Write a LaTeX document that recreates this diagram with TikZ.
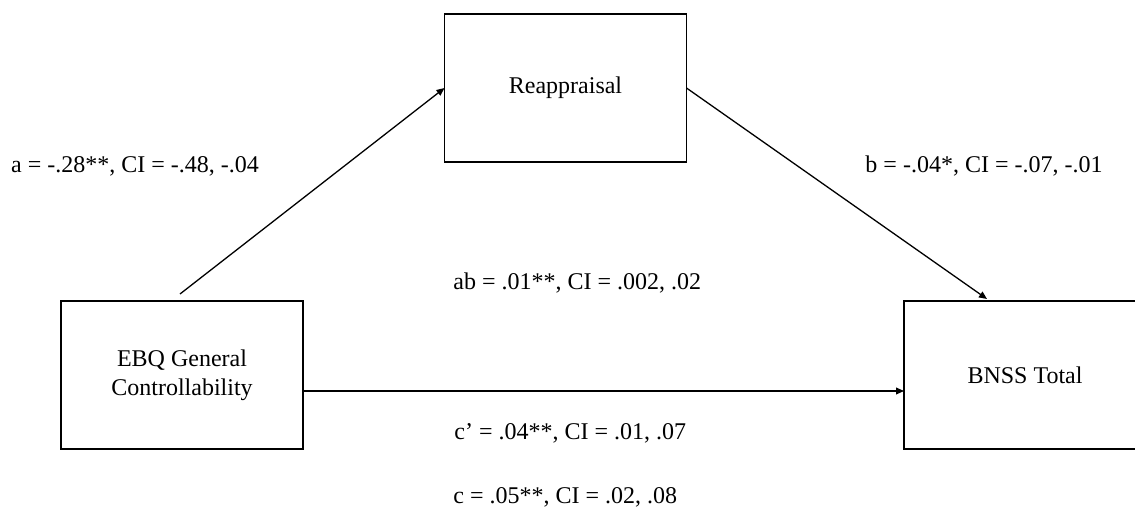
\documentclass[tikz,border=0pt]{standalone}
\usepackage{fontspec}
\setmainfont{Liberation Serif}
\usetikzlibrary{arrows.meta,calc}
\tikzset{
  varbox/.style={draw,line width=0.65pt,minimum width=121pt,minimum height=74pt,inner sep=0pt,outer sep=0pt,align=center,font=\fontsize{12}{14.5}\selectfont},
  flow/.style={-{Stealth[length=4pt,width=3.4pt,inset=0pt]},line width=0.65pt},
  coef/.style={inner sep=0pt,font=\fontsize{12}{14.5}\selectfont}
}
\begin{document}
\begin{tikzpicture}[x=0.5pt,y=-0.5pt]
    \useasboundingbox (0,0) rectangle (1135,524);
    \clip (0,0) rectangle (1135,524);

    \node[varbox] (reap) at (565.5,88) {Reappraisal};
    \node[varbox] (ebq) at (182,375) {EBQ General\\Controllability};
    \node[varbox] (bnss) at (1025,375) {BNSS Total};

    \node[coef] (apath) at (135,166) {a = -.28**, CI = -.48, -.04};
    \node[coef] (bpath) at (984,166) {b = -.04*, CI = -.07, -.01};
    \node[coef,anchor=west] (abpath) at (453,283) {ab = .01**, CI = .002, .02};
    \node[coef,anchor=west] (cppath) at (454,433) {c’ = .04**, CI = .01, .07};
    \node[coef,anchor=west] (cpath) at (453,497) {c = .05**, CI = .02, .08};

    \draw[flow] ($(ebq.north)+(-2,-7)$) -- (reap.west);
    \draw[flow] (reap.east) -- ($(bnss.north west)+(83,-2)$);
    \draw[flow] ($(ebq.east)+(0,16)$) -- ($(bnss.west)+(0,16)$);
\end{tikzpicture}
\end{document}
